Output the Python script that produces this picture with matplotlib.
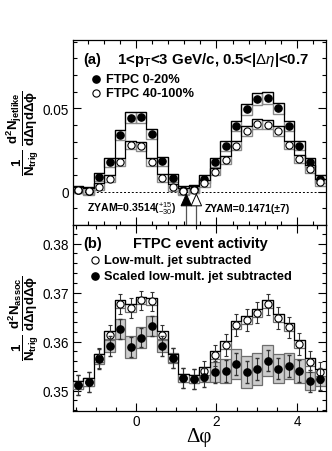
import numpy as np
import matplotlib
matplotlib.use("Agg")
import matplotlib.pyplot as plt
from matplotlib.patches import Rectangle
from matplotlib.ticker import MultipleLocator

plt.rcParams['font.family'] = ['Liberation Sans', 'DejaVu Sans']
plt.rcParams['mathtext.fontset'] = 'custom'
plt.rcParams['mathtext.rm'] = 'Liberation Sans'
plt.rcParams['mathtext.bf'] = 'Liberation Sans:bold'
plt.rcParams['mathtext.it'] = 'Liberation Sans:italic'

# ---------------- data ----------------
nbins = 24
phi_edges = np.linspace(-np.pi / 2, 3 * np.pi / 2, nbins + 1)
phi = 0.5 * (phi_edges[:-1] + phi_edges[1:])
bw = phi_edges[1] - phi_edges[0]

# panel (a): jet-like yield
ftpc_0_20 = [0.0012, 0.0004, 0.0090, 0.0176, 0.0342, 0.0442, 0.0446, 0.0344,
             0.0182, 0.0082, 0.0010, 0.0016, 0.0074, 0.0176, 0.0274, 0.0394,
             0.0494, 0.0556, 0.0564, 0.0500, 0.0394, 0.0276, 0.0176, 0.0074]
ftpc_40_100 = [0.0010, 0.0004, 0.0030, 0.0078, 0.0180, 0.0280, 0.0272, 0.0176,
               0.0082, 0.0026, 0.0002, 0.0012, 0.0050, 0.0120, 0.0192, 0.0276,
               0.0364, 0.0406, 0.0402, 0.0364, 0.0280, 0.0194, 0.0136, 0.0056]
sys_0_20 = [0.0022, 0.0022, 0.0024, 0.0026, 0.0030, 0.0033, 0.0033, 0.0030,
            0.0026, 0.0024, 0.0022, 0.0022, 0.0024, 0.0026, 0.0028, 0.0032,
            0.0034, 0.0036, 0.0036, 0.0034, 0.0032, 0.0028, 0.0026, 0.0024]
sys_40_100 = [0.0020, 0.0020, 0.0021, 0.0022, 0.0024, 0.0026, 0.0026, 0.0024,
              0.0022, 0.0021, 0.0020, 0.0020, 0.0021, 0.0023, 0.0024, 0.0026,
              0.0028, 0.0029, 0.0029, 0.0028, 0.0026, 0.0024, 0.0023, 0.0021]

# panel (b): event activity
low_mult_sub = [0.3512, 0.3517, 0.3566, 0.3614, 0.3677, 0.3668, 0.3684, 0.3682,
                0.3614, 0.3567, 0.3526, 0.3524, 0.3540, 0.3572, 0.3593, 0.3634,
                0.3644, 0.3659, 0.3676, 0.3648, 0.3629, 0.3595, 0.3559, 0.3537]
scaled_sub = [0.3512, 0.3517, 0.3565, 0.3591, 0.3626, 0.3589, 0.3608, 0.3632,
              0.3591, 0.3567, 0.3526, 0.3524, 0.3527, 0.3538, 0.3540, 0.3554,
              0.3538, 0.3544, 0.3561, 0.3545, 0.3550, 0.3540, 0.3520, 0.3524]
stat_err = [0.0020, 0.0020, 0.0020, 0.0020, 0.0020, 0.0020, 0.0020, 0.0020,
            0.0020, 0.0020, 0.0020, 0.0020, 0.0020, 0.0022, 0.0022, 0.0022,
            0.0022, 0.0022, 0.0022, 0.0022, 0.0022, 0.0022, 0.0022, 0.0022]
sys_low = [0.0008] * 24
sys_scaled = [0.0008, 0.0008, 0.0010, 0.0012, 0.0020, 0.0022, 0.0022, 0.0020,
              0.0012, 0.0010, 0.0008, 0.0008, 0.0010, 0.0020, 0.0025, 0.0030,
              0.0032, 0.0033, 0.0032, 0.0030, 0.0027, 0.0025, 0.0018, 0.0015]

# ---------------- figure ----------------
W, H = 332, 452
fig = plt.figure(figsize=(W / 100, H / 100), dpi=100)
L, R = 72.7 / W, 325.7 / W
ax1 = fig.add_axes([L, 1 - 225.5 / H, R - L, (225.5 - 40.7) / H])
ax2 = fig.add_axes([L, 1 - 411.7 / H, R - L, (411.7 - 225.5) / H])


def style(ax, xminor, ymajor, yminor):
    ax.set_xlim(-np.pi / 2, 3 * np.pi / 2)
    ax.xaxis.set_major_locator(MultipleLocator(2))
    ax.xaxis.set_minor_locator(MultipleLocator(xminor))
    ax.yaxis.set_major_locator(MultipleLocator(ymajor))
    ax.yaxis.set_minor_locator(MultipleLocator(yminor))
    ax.tick_params(which='both', direction='in', top=True, right=True,
                   width=0.8, colors='black', labelsize=9.8, pad=2.5)
    ax.tick_params(which='major', length=6)
    ax.tick_params(which='minor', length=3)
    for s in ax.spines.values():
        s.set_linewidth(0.9)


def step_line(ax, vals, **kw):
    ys = list(vals) + [vals[-1]]
    ax.step(phi_edges, ys, where='post', **kw)


# ---- panel (a)
v1 = np.array(ftpc_0_20)
v2 = np.array(ftpc_40_100)
s1 = np.array(sys_0_20)
s2 = np.array(sys_40_100)
for v, s in ((v1, s1), (v2, s2)):
    for i in range(nbins):
        ax1.add_patch(Rectangle((phi_edges[i], v[i] - s[i]), bw, 2 * s[i],
                                fill=False, edgecolor='#8a8a8a', lw=1.0, zorder=2))
    step_line(ax1, v + s, color='black', lw=0.9, zorder=3)
ax1.axhline(0, color='black', lw=0.7, ls=(0, (2, 2)), zorder=1)
ax1.plot(phi, v1, 'o', ms=5.2, mfc='black', mec='black', zorder=5)
ax1.plot(phi, v2, 'o', ms=5.2, mfc='white', mec='black', mew=0.8, zorder=5)
style(ax1, 0.4, 0.05, 0.01)
ax1.set_ylim(-0.0197, 0.0911)
ax1.set_yticks([0, 0.05])
ax1.set_yticklabels(['0', '0.05'])
ax1.tick_params(axis='x', labelbottom=False)

ax1.text(0.04, 0.895, '(a)', transform=ax1.transAxes, fontsize=10.5,
         fontweight='bold', va='center')
ax1.text(0.175, 0.895, r'1<p$_{\mathbf{T}}$<3 GeV/c, 0.5<|$\Delta\eta$|<0.7',
         transform=ax1.transAxes, fontsize=10.8, fontweight='bold', va='center')
ax1.plot([0.093], [0.79], 'o', ms=5.2, mfc='black', mec='black',
         transform=ax1.transAxes)
ax1.text(0.13, 0.79, 'FTPC 0-20%', transform=ax1.transAxes, fontsize=9.2,
         fontweight='bold', va='center')
ax1.plot([0.093], [0.71], 'o', ms=5.2, mfc='white', mec='black', mew=0.8,
         transform=ax1.transAxes)
ax1.text(0.13, 0.71, 'FTPC 40-100%', transform=ax1.transAxes, fontsize=9.2,
         fontweight='bold', va='center')

ax1.text(0.058, 0.09, r'ZYAM=0.3514($^{+15}_{-30}$)', transform=ax1.transAxes,
         fontsize=7.6, fontweight='bold', va='center')
ax1.text(0.52, 0.09, 'ZYAM=0.1471(±7)', transform=ax1.transAxes,
         fontsize=7.6, fontweight='bold', va='center')
# ZYAM arrows
for xa, face in ((1.25, 'black'), (1.5, 'white')):
    ax1.plot([xa, xa], [-0.0197, -0.0085], color='#555555', lw=0.9, zorder=4)
    ax1.fill([xa - 0.13, xa + 0.13, xa], [-0.0085, -0.0085, -0.0015],
             facecolor=face, edgecolor='black', lw=0.7, zorder=4)

ax1.set_ylabel(r'$\mathbf{\dfrac{1}{N_{trig}}\ \dfrac{d^2N_{jetlike}}{d\Delta\eta d\Delta\phi}}$',
               fontsize=9.5)
ax1.yaxis.set_label_coords(-0.125, 0.5)

# ---- panel (b)
o = np.array(low_mult_sub)
f = np.array(scaled_sub)
e = np.array(stat_err)
so = np.array(sys_low)
sf = np.array(sys_scaled)
for i in range(nbins):
    ax2.add_patch(Rectangle((phi_edges[i], f[i] - sf[i]), bw, 2 * sf[i],
                            facecolor='#cccccc', edgecolor='#6e6e6e', lw=0.9, zorder=2))
for i in range(nbins):
    ax2.add_patch(Rectangle((phi_edges[i], o[i] - so[i]), bw, 2 * so[i],
                            facecolor='white', edgecolor='#6e6e6e', lw=0.9, zorder=3))
step_line(ax2, o + so, color='black', lw=0.9, zorder=3.5)
ax2.errorbar(phi, o, yerr=e, fmt='o', ms=5.2, mfc='white', mec='black', mew=0.8,
             ecolor='#333333', elinewidth=0.8, capsize=1.2, zorder=5)
ax2.errorbar(phi, f, yerr=e, fmt='o', ms=5.2, mfc='black', mec='black',
             ecolor='#333333', elinewidth=0.8, capsize=1.2, zorder=6)
style(ax2, 0.5, 0.01, 0.002)
ax2.set_ylim(0.3459, 0.3839)
ax2.set_yticks([0.35, 0.36, 0.37, 0.38])
ax2.set_yticklabels(['0.35', '0.36', '0.37', '0.38'])
ax2.set_xticks([0, 2, 4])
ax2.set_xticklabels(['0', '2', '4'])

ax2.text(0.04, 0.9, '(b)', transform=ax2.transAxes, fontsize=10.5,
         fontweight='bold', va='center')
ax2.text(0.24, 0.9, 'FTPC event activity', transform=ax2.transAxes, fontsize=10.5,
         fontweight='bold', va='center')
ax2.plot([0.088], [0.81], 'o', ms=5.2, mfc='white', mec='black', mew=0.8,
         transform=ax2.transAxes)
ax2.text(0.125, 0.81, 'Low-mult. jet subtracted', transform=ax2.transAxes,
         fontsize=9.2, fontweight='bold', va='center')
ax2.plot([0.088], [0.725], 'o', ms=5.2, mfc='black', mec='black',
         transform=ax2.transAxes)
ax2.text(0.125, 0.725, 'Scaled low-mult. jet subtracted', transform=ax2.transAxes,
         fontsize=9.2, fontweight='bold', va='center')

ax2.set_ylabel(r'$\mathbf{\dfrac{1}{N_{trig}}\ \dfrac{d^2N_{assoc}}{d\Delta\eta d\Delta\phi}}$',
               fontsize=9.5)
ax2.yaxis.set_label_coords(-0.125, 0.5)
ax2.set_xlabel('Δφ', fontsize=15, family='Liberation Serif', labelpad=-1)

fig.savefig('out.png', dpi=100)
